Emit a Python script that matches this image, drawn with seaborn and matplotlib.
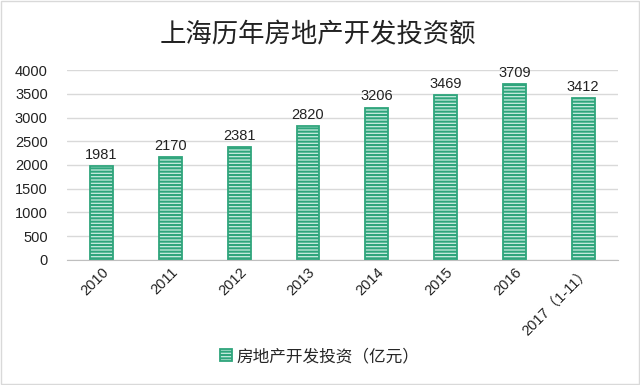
import matplotlib
matplotlib.use("Agg")
import matplotlib.pyplot as plt
import seaborn as sns
import pandas as pd
from matplotlib.patches import Patch, Rectangle

categories = ["2010", "2011", "2012", "2013", "2014", "2015", "2016", "2017（1-11）"]
values = [1981, 2170, 2381, 2820, 3206, 3469, 3709, 3412]
yticks = [0, 500, 1000, 1500, 2000, 2500, 3000, 3500, 4000]
title = "上海历年房地产开发投资额"
series_name = "房地产开发投资（亿元）"

sns.set_style("white")
plt.rcParams['font.family'] = ['Liberation Sans', 'Noto Sans CJK SC', 'DejaVu Sans']
plt.rcParams['hatch.linewidth'] = 1.5

green = "#2fa57c"
face = "#c9ece0"
df = pd.DataFrame({"cat": categories, "val": values})

fig = plt.figure(figsize=(6.4, 3.85), dpi=100)
ax = fig.add_axes([0.105, 0.325, 0.86, 0.493])
sns.barplot(data=df, x="cat", y="val", ax=ax, color="white", width=0.33,
            edgecolor=green, linewidth=1.3, saturation=1)
for p in ax.patches:
    p.set_hatch("-----")
    p.set_facecolor(face)

for i, v in enumerate(values):
    ax.text(i, v + 90, str(v), ha="center", va="bottom", fontsize=10.5, color="#222222")

ax.set_ylim(0, 4000)
ax.set_yticks(yticks)
ax.set_yticklabels([str(t) for t in yticks], fontsize=10.5, color="#222222")
ax.set_xlabel("")
ax.set_ylabel("")
ax.yaxis.grid(True, color="#d9d9d9", linewidth=1)
ax.set_axisbelow(True)
for s in ["top", "right", "left"]:
    ax.spines[s].set_visible(False)
ax.spines["bottom"].set_color("#bfbfbf")
ax.tick_params(axis="both", length=0)
ax.tick_params(axis="y", pad=14)
ax.set_xticks(range(len(categories)))
ax.set_xticklabels(categories, rotation=45, ha="right", rotation_mode="anchor",
                   fontsize=10.5, color="#222222")
ax.set_xlim(-0.5, len(categories) - 0.5)

fig.text(0.496, 0.91, title, ha="center", va="center", fontsize=19, color="#222222",
         family=['Noto Sans CJK SC', 'DejaVu Sans'])

handle = Patch(facecolor=face, edgecolor=green, hatch="-----", linewidth=1.3)
fig.legend([handle], [series_name], loc="center", bbox_to_anchor=(0.5, 0.075),
           frameon=False, fontsize=12, handlelength=0.7, handleheight=0.7,
           handletextpad=0.3)

fig.patches.append(Rectangle((0.002, 0.003), 0.996, 0.994, transform=fig.transFigure,
                             fill=False, edgecolor="#d9d9d9", linewidth=1))
fig.savefig("out.png", dpi=100)
